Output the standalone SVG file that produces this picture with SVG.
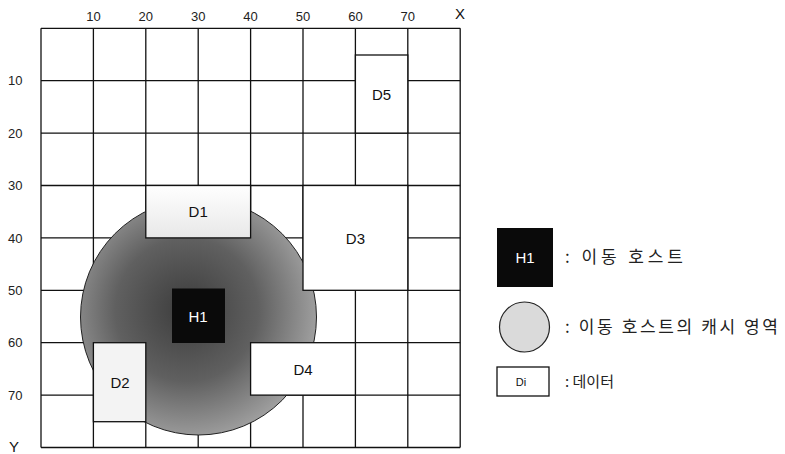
<svg xmlns="http://www.w3.org/2000/svg" width="785" height="454" viewBox="0 0 785 454">
<style>
  .grid line { stroke:#111; stroke-width:1.3; }
  .ax { font-family:"Liberation Sans", Arial, sans-serif; font-size:13px; fill:#222; }
  .axl { font-family:"Liberation Sans", Arial, sans-serif; font-size:15px; fill:#111; }
  .box { fill:#fff; stroke:#111; stroke-width:1.3; }
  .lbl { font-family:"Liberation Sans", Arial, sans-serif; font-size:15px; fill:#111; text-anchor:middle; }
  .wl { font-family:"Liberation Sans", Arial, sans-serif; font-size:15px; fill:#fff; text-anchor:middle; }
  .kr { font-family:"Noto Sans CJK KR", "Noto Sans", sans-serif; font-size:17px; fill:#222; }
</style>
<defs>
  <radialGradient id="cache" cx="0.45" cy="0.47" r="0.55">
    <stop offset="0" stop-color="#3c3c3c"/>
    <stop offset="0.55" stop-color="#606060"/>
    <stop offset="1" stop-color="#9e9e9e"/>
  </radialGradient>
  <linearGradient id="d1fill" x1="0" y1="0" x2="0" y2="1">
    <stop offset="0" stop-color="#ffffff"/>
    <stop offset="1" stop-color="#e8e8e8"/>
  </linearGradient>
</defs>
<rect width="785" height="454" fill="#fff"/>

<g id="grid" class="grid">
  <line x1="41" y1="28.3" x2="41" y2="447.5"/>
  <line x1="93.4" y1="28.3" x2="93.4" y2="447.5"/>
  <line x1="145.8" y1="28.3" x2="145.8" y2="447.5"/>
  <line x1="198.2" y1="28.3" x2="198.2" y2="447.5"/>
  <line x1="250.6" y1="28.3" x2="250.6" y2="447.5"/>
  <line x1="303" y1="28.3" x2="303" y2="447.5"/>
  <line x1="355.4" y1="28.3" x2="355.4" y2="447.5"/>
  <line x1="407.8" y1="28.3" x2="407.8" y2="447.5"/>
  <line x1="460.2" y1="28.3" x2="460.2" y2="447.5"/>
  <line x1="41" y1="28.3" x2="460.2" y2="28.3"/>
  <line x1="41" y1="80.7" x2="460.2" y2="80.7"/>
  <line x1="41" y1="133.1" x2="460.2" y2="133.1"/>
  <line x1="41" y1="185.5" x2="460.2" y2="185.5"/>
  <line x1="41" y1="237.9" x2="460.2" y2="237.9"/>
  <line x1="41" y1="290.3" x2="460.2" y2="290.3"/>
  <line x1="41" y1="342.7" x2="460.2" y2="342.7"/>
  <line x1="41" y1="395.1" x2="460.2" y2="395.1"/>
  <line x1="41" y1="447.5" x2="460.2" y2="447.5"/>
</g>

<g id="axes">
  <text class="ax" x="93.4" y="21" text-anchor="middle">10</text>
  <text class="ax" x="145.8" y="21" text-anchor="middle">20</text>
  <text class="ax" x="198.2" y="21" text-anchor="middle">30</text>
  <text class="ax" x="250.6" y="21" text-anchor="middle">40</text>
  <text class="ax" x="303" y="21" text-anchor="middle">50</text>
  <text class="ax" x="355.4" y="21" text-anchor="middle">60</text>
  <text class="ax" x="407.8" y="21" text-anchor="middle">70</text>
  <text class="axl" x="460" y="19" text-anchor="middle">X</text>
  <text class="ax" x="8" y="85.3">10</text>
  <text class="ax" x="8" y="137.7">20</text>
  <text class="ax" x="8" y="190.1">30</text>
  <text class="ax" x="8" y="242.5">40</text>
  <text class="ax" x="8" y="294.9">50</text>
  <text class="ax" x="8" y="347.3">60</text>
  <text class="ax" x="8" y="399.7">70</text>
  <text class="axl" x="14" y="452" text-anchor="middle">Y</text>
</g>

<g id="cache-area">
  <circle cx="198.5" cy="317" r="118" fill="url(#cache)" stroke="#222" stroke-width="1"/>
</g>

<g id="D1">
  <rect class="box" x="145.8" y="185.5" width="104.8" height="52.4" style="fill:url(#d1fill)"/>
  <text class="lbl" x="198.2" y="217">D1</text>
</g>
<g id="D2">
  <rect class="box" x="93.4" y="342.7" width="52.4" height="79" style="fill:#f3f3f3"/>
  <text class="lbl" x="120" y="387.5">D2</text>
</g>
<g id="D3">
  <rect class="box" x="303" y="185.5" width="104.8" height="104.8"/>
  <text class="lbl" x="355.4" y="243.5">D3</text>
</g>
<g id="D4">
  <rect class="box" x="250.6" y="342.7" width="104.8" height="52.4"/>
  <text class="lbl" x="303" y="375">D4</text>
</g>
<g id="D5">
  <rect class="box" x="355.4" y="55" width="52.4" height="78.1"/>
  <text class="lbl" x="381.6" y="99.5">D5</text>
</g>
<g id="H1">
  <rect x="172" y="288.5" width="53" height="54.5" fill="#0a0a0a"/>
  <text class="wl" x="198" y="321.5">H1</text>
</g>

<g id="connectors"/>

<g id="legend-host">
  <rect x="497" y="228" width="56" height="59" fill="#0a0a0a"/>
  <text class="wl" x="525" y="262.5">H1</text>
  <text class="kr" x="565" y="263" textLength="118" lengthAdjust="spacing">: 이동 호스트</text>
</g>
<g id="legend-cache">
  <circle cx="524.5" cy="327" r="25" fill="#dadada" stroke="#222" stroke-width="1.2"/>
  <text class="kr" x="565" y="333" textLength="213" lengthAdjust="spacing">: 이동 호스트의 캐시 영역</text>
</g>
<g id="legend-data">
  <rect class="box" x="497" y="367" width="52" height="29"/>
  <text x="521" y="386" text-anchor="middle" style="font-family:'Liberation Sans',Arial,sans-serif;font-size:11px;fill:#111">Di</text>
  <text class="kr" x="565" y="387" style="font-size:15px">: 데이터</text>
</g>
</svg>
